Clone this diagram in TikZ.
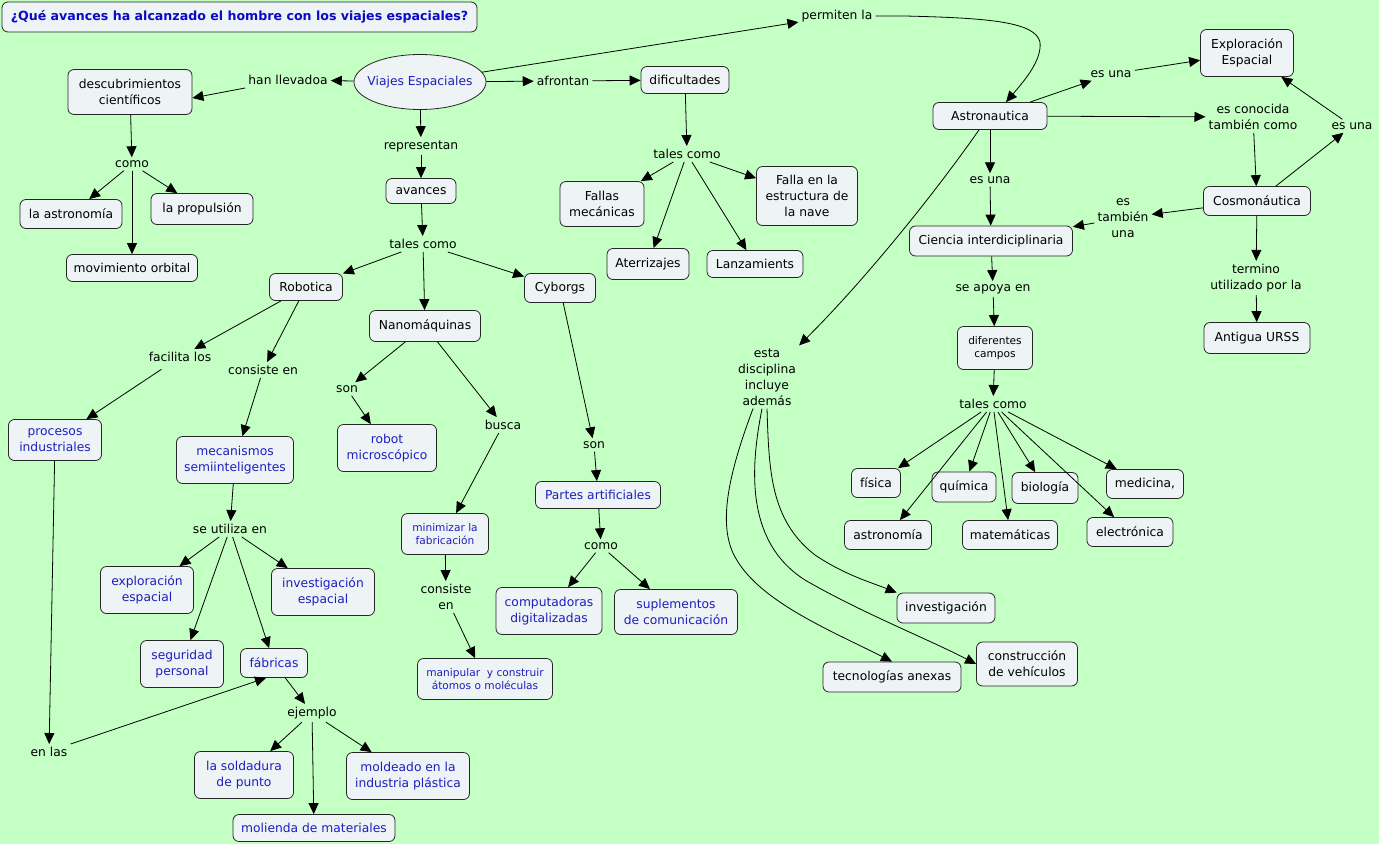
\documentclass[tikz,border=0pt]{standalone}
\usepackage{fontspec}
\setmainfont{DejaVu Sans}
\usetikzlibrary{arrows.meta,shapes.geometric,calc}
\definecolor{bg}{HTML}{C4FFC4}
\definecolor{boxfill}{HTML}{EEF3F6}
\definecolor{bluetxt}{HTML}{1E1EBE}
\definecolor{titleblue}{HTML}{0A0AC8}
\begin{document}
\begin{tikzpicture}[x=1pt,y=-1pt,
  font=\fontsize{12.3}{16}\selectfont,
  concept/.style={draw=black!85, fill=boxfill, rounded corners=6pt, align=center, inner sep=1pt, line width=0.8pt},
  bl/.style={text=bluetxt},
  lp/.style={align=center, inner sep=3pt},
  sm/.style={font=\fontsize{10.6}{13.5}\selectfont},
  conn/.style={draw=black, line width=0.8pt, -{Triangle[length=11pt,width=10pt]}},
]
\useasboundingbox (0,0) rectangle (1379,844);
\fill[bg] (0,0) rectangle (1379,844);

% title
\node[concept, minimum width=475pt, minimum height=30pt, font=\fontsize{12.6}{15}\selectfont\bfseries, text=titleblue] (title) at (239.5,17) {¿Qué avances ha alcanzado el hombre con los viajes espaciales?};

% left
\node[ellipse, draw=black!85, fill=boxfill, line width=0.8pt, minimum width=132pt, minimum height=55pt, inner xsep=-12pt, inner ysep=0pt, text=bluetxt] (vi) at (420,82) {Viajes Espaciales};
\node[lp] (han) at (288,80) {han llevadoa};
\node[concept, minimum width=124pt, minimum height=45pt] (desc) at (130,92) {descubrimientos\\científicos};
\node[lp] (como1) at (132,164) {como};
\node[concept, minimum width=102pt, minimum height=29pt] (astr1) at (71,214) {la astronomía};
\node[concept, minimum width=102pt, minimum height=31pt] (prop) at (202,209) {la propulsión};
\node[concept, minimum width=131pt, minimum height=27pt] (movo) at (132,268) {movimiento orbital};
\node[lp] (repr) at (421,146) {representan};
\node[concept, minimum width=70pt, minimum height=25pt] (avan) at (421,191) {avances};
\node[lp] (tc1) at (423,244) {tales como};
\node[concept, minimum width=73pt, minimum height=27pt] (robo) at (306,287) {Robotica};
\node[concept, minimum width=111pt, minimum height=31pt] (nano) at (425,326) {Nanomáquinas};
\node[concept, minimum width=71pt, minimum height=29pt] (cyb) at (560,288) {Cyborgs};
\node[lp] (faci) at (180,357) {facilita los};
\node[lp] (cons1) at (263,370) {consiste en};
\node[concept, bl, minimum width=93pt, minimum height=41pt] (proc) at (55,440) {procesos\\industriales};
\node[concept, bl, minimum width=117pt, minimum height=47pt] (meca) at (235,460) {mecanismos\\semiinteligentes};
\node[lp] (seut) at (230,529) {se utiliza en};
\node[concept, bl, minimum width=93pt, minimum height=47pt] (expl) at (147,590) {exploración\\espacial};
\node[concept, bl, minimum width=103pt, minimum height=47pt] (inve) at (323,592) {investigación\\espacial};
\node[concept, bl, minimum width=83pt, minimum height=47pt] (segu) at (182,664) {seguridad\\personal};
\node[concept, bl, minimum width=67pt, minimum height=29pt] (fabr) at (274,663) {fábricas};
\node[lp] (enlas) at (49,752) {en las};
\node[lp] (ejem) at (312,713) {ejemplo};
\node[concept, bl, minimum width=99pt, minimum height=47pt] (sold) at (244,775) {la soldadura\\de punto};
\node[concept, bl, minimum width=162pt, minimum height=27pt] (moli) at (314,828) {molienda de materiales};
\node[concept, bl, minimum width=123pt, minimum height=47pt] (mold) at (408,776) {moldeado en la\\industria plástica};
\node[lp] (son1) at (347,389) {son};
\node[concept, bl, minimum width=99pt, minimum height=47pt] (robm) at (387,448) {robot\\microscópico};
\node[lp] (busc) at (503,425) {busca};
\node[concept, bl, sm, minimum width=87pt, minimum height=41pt] (mini) at (445,534) {minimizar la\\fabricación};
\node[lp] (cons2) at (446,597) {consiste\\en};
\node[concept, bl, sm, minimum width=135pt, minimum height=41pt] (mani) at (485,679) {manipular~ y construir\\átomos o moléculas};
\node[lp] (son2) at (594,445) {son};
\node[concept, bl, minimum width=125pt, minimum height=27pt] (part) at (598,495) {Partes artificiales};
\node[lp] (como2) at (601,546) {como};
\node[concept, bl, minimum width=106pt, minimum height=47pt] (comp) at (549,611) {computadoras\\digitalizadas};
\node[concept, bl, minimum width=123pt, minimum height=45pt] (supl) at (676,612) {suplementos\\de comunicación};

% middle top
\node[lp] (perm) at (837,16) {permiten la};
\node[lp] (afro) at (563,81) {afrontan};
\node[concept, minimum width=88pt, minimum height=27pt] (difi) at (685,80) {dificultades};
\node[lp] (tc2) at (687,154) {tales como};
\node[concept, minimum width=84pt, minimum height=45pt] (fall) at (602,204) {Fallas\\mecánicas};
\node[concept, minimum width=82pt, minimum height=31pt] (ater) at (648,264) {Aterrizajes};
\node[concept, minimum width=96pt, minimum height=27pt] (lanz) at (755,264) {Lanzamients};
\node[concept, minimum width=101pt, minimum height=59pt] (fest) at (807,196) {Falla en la\\estructura de\\la nave};

% right
\node[concept, minimum width=114pt, minimum height=27pt] (astro) at (990,116) {Astronautica};
\node[lp] (esu1) at (1111,74) {es una};
\node[concept, minimum width=93pt, minimum height=47pt] (expe) at (1247,53) {Exploración\\Espacial};
\node[lp] (cono) at (1253,117) {es conocida\\también como};
\node[concept, minimum width=107pt, minimum height=29pt] (cosm) at (1257,201) {Cosmonáutica};
\node[lp] (esu3) at (1352,126) {es una};
\node[lp] (tamb) at (1123,218) {es\\también\\una};
\node[lp] (esu2) at (990,180) {es una};
\node[concept, minimum width=163pt, minimum height=30pt] (cien) at (991,241) {Ciencia interdiciplinaria};
\node[lp] (apoy) at (993,289) {se apoya en};
\node[concept, sm, minimum width=75pt, minimum height=43pt] (dcam) at (995,348) {diferentes\\campos};
\node[lp] (term) at (1256,278) {termino\\utilizado por la};
\node[concept, minimum width=106pt, minimum height=31pt] (urss) at (1257,338) {Antigua URSS};
\node[lp] (esta) at (767,377) {esta\\disciplina\\incluye\\además};
\node[lp] (tc3) at (993,404) {tales como};
\node[concept, minimum width=49pt, minimum height=29pt] (fisi) at (876,483) {física};
\node[concept, minimum width=87pt, minimum height=29pt] (astn) at (888,535) {astronomía};
\node[concept, minimum width=64pt, minimum height=30pt] (quim) at (964,487) {química};
\node[concept, minimum width=95pt, minimum height=29pt] (mate) at (1010,535) {matemáticas};
\node[concept, minimum width=66pt, minimum height=31pt] (biol) at (1045,488) {biología};
\node[concept, minimum width=86pt, minimum height=29pt] (elec) at (1130,532) {electrónica};
\node[concept, minimum width=77pt, minimum height=29pt] (medi) at (1145,484) {medicina,};
\node[concept, minimum width=98pt, minimum height=30pt] (inv2) at (946,608) {investigación};
\node[concept, minimum width=101pt, minimum height=44pt] (cveh) at (1027,664) {construcción\\de vehículos};
\node[concept, minimum width=138pt, minimum height=30pt] (tecn) at (892,677) {tecnologías anexas};

% connectors
\draw[conn] (vi) -- (han);
\draw[conn] (han.south west) -- ([yshift=-6pt]desc.east);
\draw[conn] (desc) -- (como1);
\draw[conn] (como1) -- (astr1);
\draw[conn] (como1) -- (prop);
\draw[conn] (como1) -- (movo);
\draw[conn] (vi) -- (repr);
\draw[conn] (repr) -- (avan);
\draw[conn] (avan) -- (tc1);
\draw[conn] (tc1) -- (robo);
\draw[conn] (tc1) -- (nano);
\draw[conn] (tc1) -- (cyb);
\draw[conn] (robo) -- (faci);
\draw[conn, shorten <=8pt] (faci) -- (proc);
\draw[conn] (robo) -- (cons1);
\draw[conn] (cons1) -- (meca);
\draw[conn] (meca) -- (seut);
\draw[conn] (seut) -- (expl);
\draw[conn] (seut) -- (segu);
\draw[conn] (seut) -- (fabr);
\draw[conn] (seut) -- (inve);
\draw[conn] (proc) -- (enlas);
\draw[conn] (enlas.north east) -- ([xshift=-8pt]fabr.south);
\draw[conn] (fabr) -- (ejem);
\draw[conn] (ejem) -- (sold);
\draw[conn] (ejem) -- (moli);
\draw[conn] (ejem) -- (mold);
\draw[conn] (nano) -- (son1);
\draw[conn] (son1) -- (robm);
\draw[conn] (nano) -- (busc);
\draw[conn] (busc) -- (mini);
\draw[conn] (mini) -- (cons2);
\draw[conn] (cons2) -- (mani);
\draw[conn] (cyb) -- (son2);
\draw[conn] (son2) -- (part);
\draw[conn] (part) -- (como2);
\draw[conn] (como2) -- (comp);
\draw[conn] (como2) -- (supl);
\draw[conn] (vi) -- (perm);
\draw[conn] (perm.east) -- (905,16) .. controls (990,18) and (1035,22) .. (1040,42) .. controls (1042,60) and (1025,80) .. ([xshift=16pt]astro.north);
\draw[conn] (vi) -- (afro);
\draw[conn] (afro) -- (difi);
\draw[conn] (difi) -- (tc2);
\draw[conn] (tc2) -- (fall);
\draw[conn] (tc2) -- (ater);
\draw[conn] (tc2) -- (lanz);
\draw[conn] (tc2) -- (fest);
\draw[conn] (astro) -- (esu1);
\draw[conn] (esu1) -- (expe);
\draw[conn] (astro) -- (cono);
\draw[conn] (cono) -- (cosm);
\draw[conn] (cosm) -- (esu3);
\draw[conn] (esu3) -- (expe);
\draw[conn] (cosm) -- (tamb);
\draw[conn] (tamb) -- (cien);
\draw[conn] (astro) -- (esu2);
\draw[conn] (esu2) -- (cien);
\draw[conn] (cien) -- (apoy);
\draw[conn] (apoy) -- (dcam);
\draw[conn] (cosm) -- (term);
\draw[conn] (term) -- (urss);
\draw[conn] ([xshift=-11pt]astro.south) .. controls (930,200) and (860,285) .. (esta.north east);
\draw[conn] (esta.south) .. controls (769,470) and (770,520) .. (815,555) .. controls (845,575) and (870,582) .. (inv2.north west);
\draw[conn] ([xshift=-5pt]esta.south) .. controls (752,460) and (742,540) .. (805,580) .. controls (860,612) and (930,640) .. (cveh.west);
\draw[conn] ([xshift=-14pt]esta.south) .. controls (730,470) and (718,520) .. (733,553) .. controls (755,600) and (830,630) .. (tecn.north);
\draw[conn] (dcam) -- (tc3);
\draw[conn] (tc3) -- (fisi);
\draw[conn] (tc3) -- (astn);
\draw[conn] (tc3) -- (quim);
\draw[conn] (tc3) -- (mate);
\draw[conn] (tc3) -- (biol);
\draw[conn] (tc3) -- (elec);
\draw[conn] (tc3) -- (medi);
\end{tikzpicture}
\end{document}
